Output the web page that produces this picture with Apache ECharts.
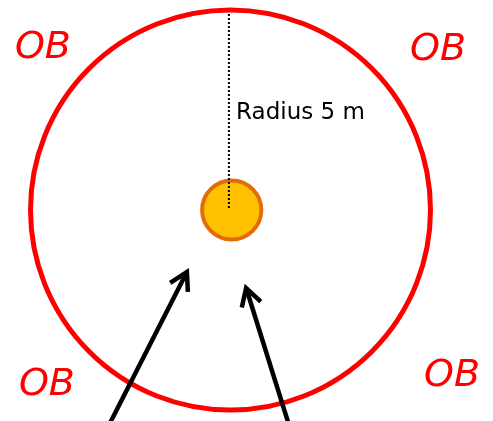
<!DOCTYPE html>
<html>
<head>
    <meta charset="utf-8">
    <title>OB radius</title>
    <script src="https://cdn.jsdelivr.net/npm/echarts@6/dist/echarts.min.js"></script>
    <style>
        html, body { margin: 0; padding: 0; background: #fff; }
        #chart { width: 493px; height: 421px; }
    </style>
</head>
<body>
<div id="chart"></div>
<script type="text/javascript">
    // metres, centre of the hole at 0,0
    var ringCircle = [[0, 0, 5]];          // x, y, radius
    var ballCircle = [[0.03, 0, 0.74]];
    var radiusLine = [[-0.04, 0.05], [-0.04, 4.9]];
    var radiusText = [[0.14, 2.42, 'Radius 5 m']];
    var obX = [-4.69, 5.19, -4.59, 5.54];
    var obY = [4.05, 4.0, -4.38, -4.15];
    var obText = ['OB', 'OB', 'OB', 'OB'];
    // arrows: tail x, tail y, tip x, tip y
    var arrows = [
        [-3.05, -5.4, -1.09, -1.55],
        [1.47, -5.4, 0.39, -1.95]
    ];

    var obData = obX.map(function (x, i) { return [x, obY[i], obText[i]]; });

    var myChart = echarts.init(document.getElementById('chart'));

    myChart.setOption({
        animation: false,
        grid: { left: 0, right: 0, top: 0, bottom: 0 },
        xAxis: { type: 'value', min: -5.7625, max: 6.5625, show: false },
        yAxis: { type: 'value', min: -5.275, max: 5.25, show: false },
        series: [
            {
                // 红色外圈
                type: 'custom',
                data: ringCircle,
                renderItem: function (params, api) {
                    var c = api.coord([api.value(0), api.value(1)]);
                    var r = api.size([api.value(2), 0])[0];
                    return { type: 'circle', shape: { cx: c[0], cy: c[1], r: r },
                        style: { fill: null, stroke: '#ff0000', lineWidth: 5 } };
                }
            },
            {
                // 球
                type: 'custom',
                data: ballCircle,
                renderItem: function (params, api) {
                    var c = api.coord([api.value(0), api.value(1)]);
                    var r = api.size([api.value(2), 0])[0];
                    return { type: 'circle', shape: { cx: c[0], cy: c[1], r: r },
                        style: { fill: '#ffc000', stroke: '#e36c0a', lineWidth: 4 } };
                },
                z: 1
            },
            {
                type: 'line',
                data: radiusLine,
                symbol: 'none',
                z: 3,
                lineStyle: { color: '#000', width: 2, type: [2, 2] }
            },
            {
                // 箭头
                type: 'custom',
                data: arrows,
                z: 4,
                renderItem: function (params, api) {
                    var a = api.coord([api.value(0), api.value(1)]);
                    var b = api.coord([api.value(2), api.value(3)]);
                    var ang = Math.atan2(b[1] - a[1], b[0] - a[0]);
                    var len = 20, spread = 0.52;
                    var h1 = [b[0] - len * Math.cos(ang - spread), b[1] - len * Math.sin(ang - spread)];
                    var h2 = [b[0] - len * Math.cos(ang + spread), b[1] - len * Math.sin(ang + spread)];
                    return {
                        type: 'group',
                        children: [
                            { type: 'polyline', shape: { points: [a, b] },
                              style: { stroke: '#000', lineWidth: 4.5, fill: null } },
                            { type: 'polyline', shape: { points: [h1, b, h2] },
                              style: { stroke: '#000', lineWidth: 4.5, fill: null, lineJoin: 'miter' } }
                        ]
                    };
                }
            },
            {
                type: 'custom',
                data: obData,
                z: 5,
                renderItem: function (params, api) {
                    var c = api.coord([api.value(0), api.value(1)]);
                    return { type: 'text', x: c[0], y: c[1],
                        style: { text: obData[params.dataIndex][2], fill: '#ff0000',
                            font: 'italic 38px "DejaVu Sans"', align: 'center', verticalAlign: 'middle' } };
                }
            },
            {
                type: 'custom',
                data: radiusText,
                z: 5,
                renderItem: function (params, api) {
                    var c = api.coord([api.value(0), api.value(1)]);
                    return { type: 'text', x: c[0], y: c[1],
                        style: { text: radiusText[params.dataIndex][2], fill: '#000',
                            font: '23px "DejaVu Sans"', align: 'left', verticalAlign: 'middle' } };
                }
            }
        ]
    });
</script>
</body>
</html>
